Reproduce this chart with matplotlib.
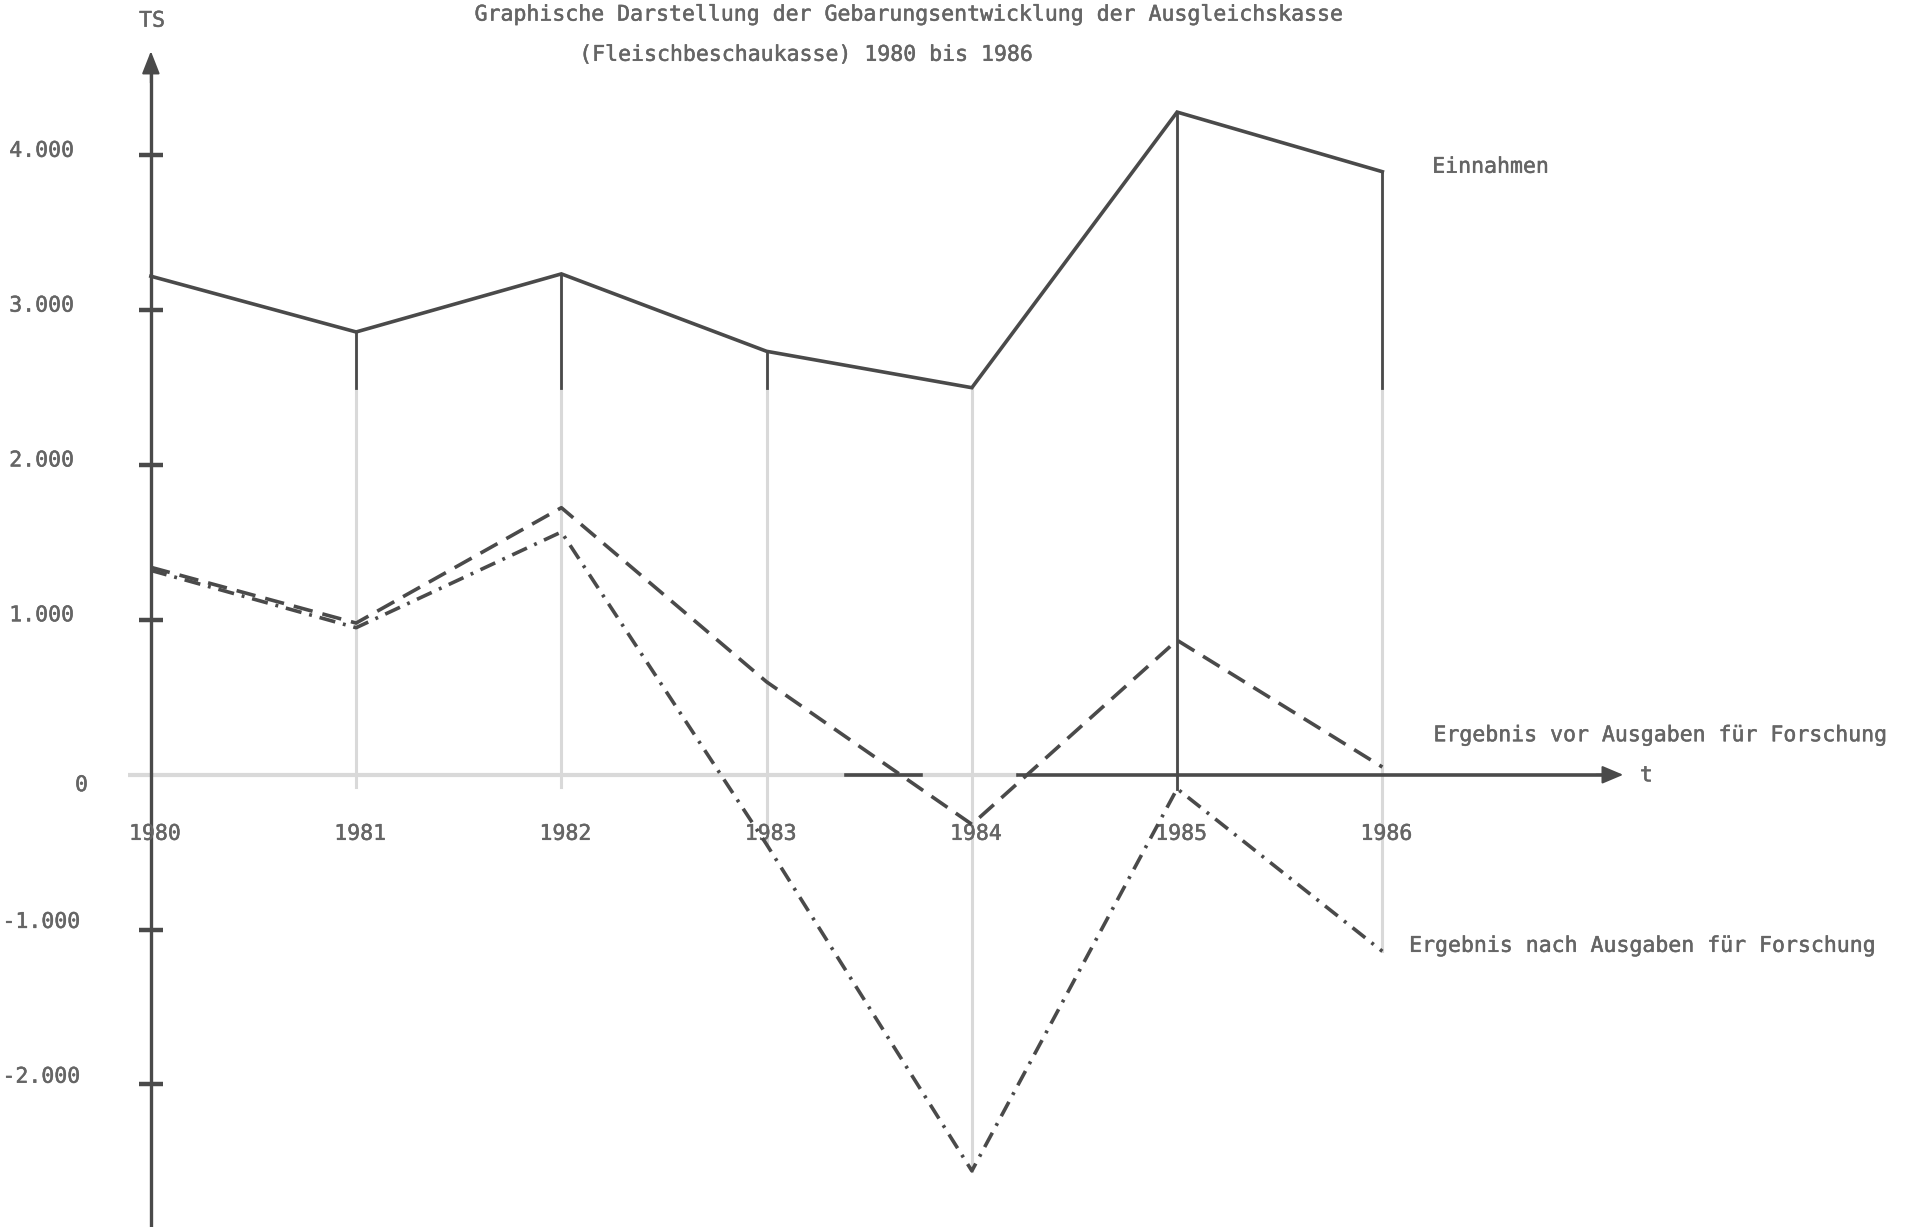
import matplotlib
matplotlib.use("Agg")
import matplotlib.pyplot as plt
import matplotlib.patheffects as pe
import numpy as np

# ---------------- data ----------------
years = [1980, 1981, 1982, 1983, 1984, 1985, 1986]
einnahmen = [3220, 2860, 3235, 2735, 2500, 4280, 3895]
ergebnis_vor = [1340, 980, 1725, 600, -320, 869, 50]
ergebnis_nach = [1320, 950, 1568, -450, -2558, -90, -1140]
ytick_values = [4000, 3000, 2000, 1000, -1000, -2000]
ytick_labels = ["4.000", "3.000", "2.000", "1.000", "-1.000", "-2.000"]
year_labels = ["1980", "1981", "1982", "1983", "1984", "1985", "1986"]
title_lines = ["Graphische Darstellung der Gebarungsentwicklung der Ausgleichskasse",
               "(Fleischbeschaukasse) 1980 bis 1986"]
series_labels = ["Einnahmen", "Ergebnis vor Ausgaben für Forschung",
                 "Ergebnis nach Ausgaben für Forschung"]

# ---------------- layout ----------------
W, H = 1908, 1227
fig = plt.figure(figsize=(W / 100, H / 100), dpi=100)
ax = fig.add_axes([0, 0, 1, 1])
# reference layout measured in the 1568-wide view
px_per_year = 168.67
px_per_1000 = 127.2
x_origin = 124.0
y_origin = 636.5
ax.set_xlim(1980 - x_origin / px_per_year, 1980 + (1568 - x_origin) / px_per_year)
ax.set_ylim(-(1008 - y_origin) / px_per_1000 * 1000, y_origin / px_per_1000 * 1000)
ax.axis("off")


def dx(d):
    return 1980 + (d - x_origin) / px_per_year


def dy(d):
    return (y_origin - d) / px_per_1000 * 1000


LINE = "#4a4a4a"
LIGHT = "#d9d9d9"
TEXT = "#656565"
FONT = dict(family="DejaVu Sans Mono", fontsize=15.5, color=TEXT,
            path_effects=[pe.withStroke(linewidth=0.35, foreground=TEXT)])
lw = 2.6

# vertical drop lines (light), dark upper part
for yr, e, n in zip(years[1:], einnahmen[1:], ergebnis_nach[1:]):
    low = min(n, -80)
    ax.plot([yr, yr], [low, e], color=LIGHT, lw=2.2, zorder=1)
    if yr == 1985:
        ax.plot([yr, yr], [n, e], color=LINE, lw=2.0, zorder=2)
    else:
        ax.plot([yr, yr], [min(2500, e), e], color=LINE, lw=2.0, zorder=2)

# x-axis (light, dark right part) with arrow
ax.plot([dx(105), dx(837)], [0, 0], color=LIGHT, lw=3, zorder=1, solid_capstyle="butt")
ax.plot([dx(695), dx(757)], [0, 0], color=LINE, lw=2.6, zorder=2)
ax.plot([dx(837), dx(1318)], [0, 0], color=LINE, lw=2.6, zorder=2)
ax.annotate("", xy=(dx(1334), 0), xytext=(dx(1312), 0),
            arrowprops=dict(arrowstyle="-|>,head_length=1.3,head_width=0.55",
                            color=LINE, lw=1.5, shrinkA=0, shrinkB=0))
ax.text(dx(1353), dy(637), "t", ha="center", va="center", **FONT)

# y-axis with arrow
ax.plot([1980, 1980], [dy(1010), dy(60)], color=LINE, lw=2.4, zorder=3)
ax.annotate("", xy=(1980, dy(42)), xytext=(1980, dy(68)),
            arrowprops=dict(arrowstyle="-|>,head_length=1.4,head_width=0.55",
                            color=LINE, lw=1.5, shrinkA=0, shrinkB=0))
ax.plot([1980] * len(ytick_values), ytick_values, marker="_", ms=17, mew=3.2,
        color=LINE, ls="none", zorder=3)

# series
ax.plot(years, einnahmen, color=LINE, lw=lw, zorder=4, solid_joinstyle="miter")
ax.plot(years, ergebnis_vor, color=LINE, lw=lw, ls=(0, (5.4, 2.8)), zorder=4)
ax.plot(years, ergebnis_nach, color=LINE, lw=lw, ls=(0, (4.5, 2.2, 0.8, 2.2)), zorder=4)

# tick labels
for v, lab in zip(ytick_values, ytick_labels):
    if v > 0:
        ax.text(dx(61), v + 30, lab, ha="right", va="center", **FONT)
    else:
        ax.text(dx(2), v + 50, lab, ha="left", va="center", **FONT)
ax.text(dx(67), dy(645), "0", ha="center", va="center", **FONT)
for yr, lab in zip(years, year_labels):
    ax.text(yr + 0.02, dy(685), lab, ha="center", va="center", **FONT)

# titles and labels
ax.text(dx(125), dy(17), "TS", ha="center", va="center", **FONT)
ax.text(dx(390), dy(12), title_lines[0], ha="left", va="center", **FONT)
ax.text(dx(476), dy(45), title_lines[1], ha="left", va="center", **FONT)
ax.text(dx(1177), dy(137), series_labels[0], ha="left", va="center", **FONT)
ax.text(dx(1178), dy(604), series_labels[1], ha="left", va="center", **FONT)
ax.text(dx(1158), dy(777), series_labels[2], ha="left", va="center", **FONT)

fig.savefig("out.png", dpi=100, facecolor="white")
